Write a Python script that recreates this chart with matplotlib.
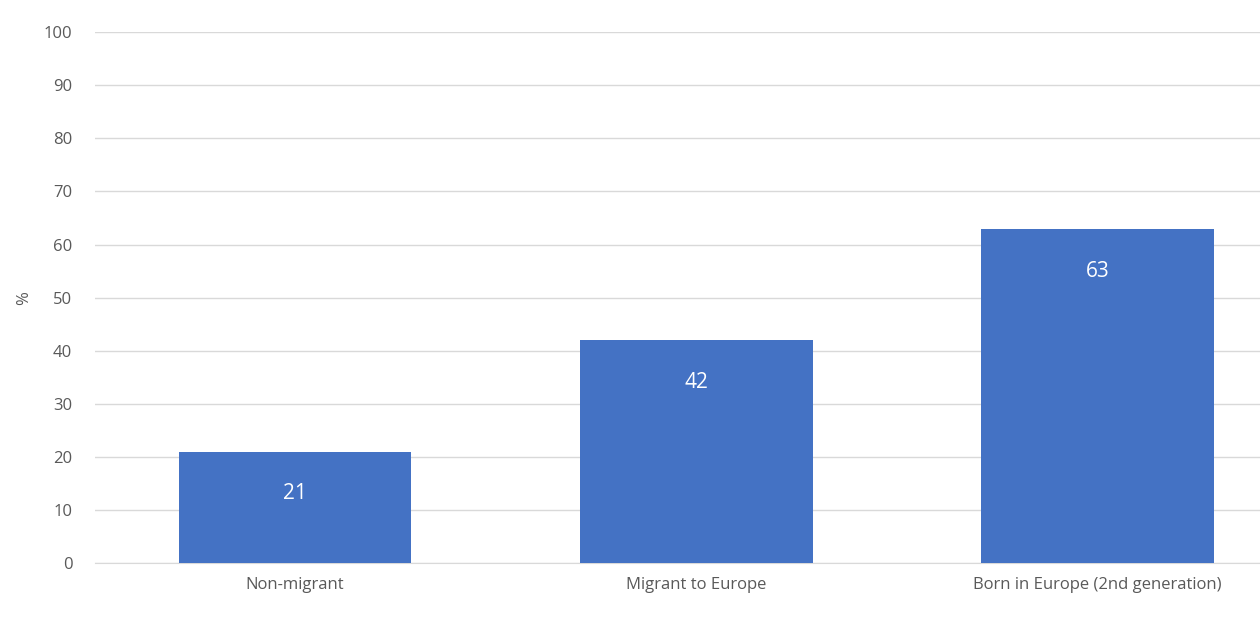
import matplotlib
matplotlib.use("Agg")
import matplotlib.pyplot as plt

categories = ["Non-migrant", "Migrant to Europe", "Born in Europe (2nd generation)"]
values = [21, 42, 63]
yticks = [0, 10, 20, 30, 40, 50, 60, 70, 80, 90, 100]

plt.rcParams["font.family"] = "Open Sans"
text_col = "#595959"

fig = plt.figure(figsize=(12.6, 6.2), dpi=100)
ax = fig.add_axes([0.075, 0.092, 0.925, 0.856])

x = range(len(categories))
bars = ax.bar(x, values, width=0.58, color="#4472C4", zorder=3)
for b, v in zip(bars, values):
    ax.text(b.get_x() + b.get_width() / 2, v - 8, str(v), ha="center", va="center",
            color="white", fontsize=15, zorder=4)

ax.set_ylim(0, 100)
ax.set_xlim(-0.5, 2.405)
ax.set_yticks(yticks)
ax.set_xticks(list(x))
ax.set_xticklabels(categories)
ax.yaxis.grid(True, color="#D9D9D9", linewidth=1, zorder=0)
ax.tick_params(axis="both", length=0, colors=text_col, labelsize=12)
ax.tick_params(axis="x", pad=10)
ax.tick_params(axis="y", pad=16)
for s in ["top", "right", "left"]:
    ax.spines[s].set_visible(False)
ax.spines["bottom"].set_color("#D9D9D9")
ax.set_ylabel("%", color=text_col, fontsize=12, labelpad=8)

fig.savefig("out.png", dpi=100)
